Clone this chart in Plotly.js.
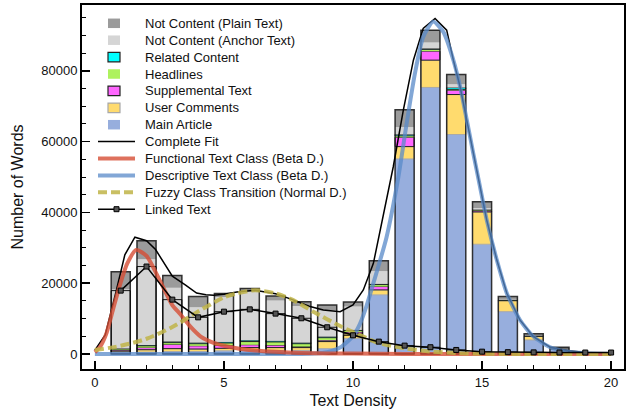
<!DOCTYPE html>
<html>
<head>
<meta charset="utf-8">
<script src="https://cdn.plot.ly/plotly-3.0.1.min.js"></script>
<style>html,body{margin:0;padding:0;background:#fff;}#chart{width:631px;height:411px;}</style>
</head>
<body>
<div id="chart"></div>
<script>
// ---- data ----
const binX = [1,2,3,4,5,6,7,8,9,10,11,12,13,14,15,16,17,18];
const plainText    = [5000,5200,3500,3000,1000,950,1300,1200,1600,1250,2950,4900,3490,2730,1800,750,500,350];
const anchorText   = [16700,24300,15200,10000,12700,13650,11400,10350,7350,6600,3600,2070,1700,940,450,200,100,50];
const relatedContent = [150,200,300,300,300,400,300,300,300,200,200,400,250,500,100,50,0,0];
const headlines    = [300,500,500,600,700,900,900,800,700,400,550,400,500,250,200,50,50,0];
const supplemental = [300,600,1200,900,800,800,700,300,400,500,950,2640,2540,1220,350,100,0,0];
const userComments = [400,700,800,700,700,800,800,800,2000,1300,1400,3490,7720,11300,9130,3100,1100,200];
const mainArticle  = [400,500,700,700,900,1000,1000,1000,1500,4400,16700,55100,75300,62000,31000,11950,3950,1300];

const fitX = [0,0.4,0.8,1.16,1.55,2.0,2.35,2.7,3.0,3.5,3.94,4.3,4.6,5.0,5.5,6.2,7.0,7.6,8.3,8.85,9.5,10.0,10.4,10.79,11.17,11.56,11.95,12.34,12.72,13.18,13.63,13.89,14.15,14.41,14.66,14.92,15.18,15.57,15.96,16.47,16.99,17.64,18.28,19,20];
const fitY = [1100,5400,17000,28000,33000,32000,29500,25500,22000,19500,17200,16700,16600,16900,17500,18000,17000,15500,13500,12400,11950,13850,18100,25600,38800,52900,68900,83000,92000,94800,91500,83000,75500,66100,56700,47300,37900,26600,17150,9600,4900,1900,1000,400,150];

const funcX = [0,0.2,0.45,0.7,0.97,1.25,1.6,2.0,2.5,3.0,3.3,3.7,4.1,4.6,5.0,5.6,6.2,7.0,8.0,9.0,10,12,14,16,18,20];
const funcY = [500,2000,5900,12500,19500,25500,29400,27700,21000,13800,11300,7700,4900,3100,2300,1500,1000,600,300,150,100,0,0,0,0,0];

const descX = [0,2,4,6,8,8.5,9.0,9.5,10.0,10.27,10.5,10.79,11.3,11.76,12.08,12.4,12.72,13.11,13.5,13.89,14.15,14.41,14.66,14.92,15.18,15.57,15.96,16.47,16.99,17.64,18.28,19,20];
const descY = [0,0,0,0,0,100,500,1800,5000,8500,13000,20000,33000,50100,65200,79300,89600,93900,91000,83000,75500,66100,56700,47300,37900,26600,17150,9600,4900,1900,700,200,0];

const fuzzyX = [0,1.0,2.0,3.0,4.0,5.0,5.5,6.2,7.0,7.6,8.5,9.5,10.4,11.0,12.0,13.0,14.0,15,16,18,20];
const fuzzyY = [1100,2300,4300,7600,12000,16000,17100,18000,17100,15500,11800,7900,4900,3100,1600,700,250,100,0,0,0];

const linkedX = [1,2,3,4,5,6,7,8,9,10,11,12,13,14,15,16,17,18,19,20];
const linkedY = [17900,24700,15350,10350,11950,12600,11400,10080,7540,5270,3480,2350,1900,1130,650,500,450,400,400,400];

const yTicks = [0,20000,40000,60000,80000];
const xTicks = [0,5,10,15,20];

const legendLabels = ['Not Content (Plain Text)','Not Content (Anchor Text)','Related Content','Headlines',
  'Supplemental Text','User Comments','Main Article','Complete Fit','Functional Text Class (Beta D.)',
  'Descriptive Text Class (Beta D.)','Fuzzy Class Transition (Normal D.)','Linked Text'];

// ---- styles ----
const ST = {
  'Main Article':{fill:'#97AEDD', line:'rgba(0,0,0,0)', lw:0},
  'User Comments':{fill:'#FFDB6E', line:'#A8A8A8', lw:1},
  'Supplemental Text':{fill:'#FF66FF', line:'#222', lw:1},
  'Headlines':{fill:'#AEF25E', line:'rgba(0,0,0,0)', lw:0},
  'Related Content':{fill:'#00FFFF', line:'#222', lw:1},
  'Not Content (Anchor Text)':{fill:'#D5D5D5', line:'rgba(0,0,0,0)', lw:0},
  'Not Content (Plain Text)':{fill:'#9B9B9B', line:'rgba(0,0,0,0)', lw:0},
  'Complete Fit':{line:'#000', lw:1.5},
  'Functional Text Class (Beta D.)':{line:'rgba(214,78,52,0.8)', lw:4},
  'Descriptive Text Class (Beta D.)':{line:'rgba(88,138,200,0.75)', lw:4},
  'Fuzzy Class Transition (Normal D.)':{line:'rgba(192,180,72,0.85)', lw:4, dash:'9px,4px'},
  'Linked Text':{line:'#000', lw:1.5, marker:true}
};

const stack = [
  ['Main Article', mainArticle], ['User Comments', userComments], ['Supplemental Text', supplemental],
  ['Headlines', headlines], ['Related Content', relatedContent],
  ['Not Content (Anchor Text)', anchorText], ['Not Content (Plain Text)', plainText]
];
const BW = 0.74;
const traces = [];
let cum = binX.map(() => 0);
stack.forEach(([name, data]) => {
  const s = ST[name];
  traces.push({type:'bar', x:binX, y:data, base:cum.slice(), width:BW, name:name,
    marker:{color:s.fill, line:{color:s.line, width:s.lw}}});
  cum = cum.map((v,i) => v + data[i]);
});
traces.push({type:'bar', x:binX, y:cum, base:binX.map(()=>0), width:BW,
  marker:{color:'rgba(0,0,0,0)', line:{color:'rgba(20,20,20,0.85)', width:1.5}}});
traces.push({type:'bar', x:binX, y:linkedY.slice(0, binX.length), base:binX.map(()=>0), width:BW,
  marker:{color:'rgba(0,0,0,0)', line:{color:'rgba(0,0,0,0.9)', width:1}}});

function lineTrace(name, x, y, extra) {
  const s = ST[name];
  return Object.assign({type:'scatter', mode:'lines', x:x, y:y, name:name,
    line:Object.assign({color:s.line, width:s.lw}, s.dash ? {dash:s.dash} : {})}, extra || {});
}
traces.push(lineTrace('Complete Fit', fitX, fitY));
const tDesc = lineTrace('Descriptive Text Class (Beta D.)', descX, descY); tDesc.line.shape='spline'; tDesc.line.smoothing=0.6; traces.push(tDesc);
const tFunc = lineTrace('Functional Text Class (Beta D.)', funcX, funcY); tFunc.line.shape='spline'; tFunc.line.smoothing=0.6; traces.push(tFunc);
const tFuzz = lineTrace('Fuzzy Class Transition (Normal D.)', fuzzyX, fuzzyY); tFuzz.line.shape='spline'; tFuzz.line.smoothing=0.8; traces.push(tFuzz);
traces.push(lineTrace('Linked Text', linkedX, linkedY, {mode:'lines+markers',
  marker:{symbol:'square', size:5, color:'#555', line:{color:'#000', width:1}}}));

// ---- legend drawn in paper space (compact spacing like the reference) ----
const M = {l:82, r:7, t:5, b:42}, W = 631, H = 411;
const PW = W - M.l - M.r, PH = H - M.t - M.b;
const px = v => (v - M.l) / PW;
const py = v => (H - M.b - v) / PH;
const LG = {top:23.3, step:16.9, sqL:108, sqR:120, sqH:9.5, lnL:98, lnR:135, text:143};
const shapes = [], annotations = [];
legendLabels.forEach((name, i) => {
  const cy = LG.top + LG.step * i;
  const s = ST[name];
  if (s.fill) {
    shapes.push({type:'rect', xref:'paper', yref:'paper', x0:px(LG.sqL), x1:px(LG.sqR), y0:py(cy + LG.sqH/2), y1:py(cy - LG.sqH/2),
      fillcolor:s.fill, line:{color:s.lw ? s.line : 'rgba(0,0,0,0)', width:s.lw ? 1.2 : 0}});
  } else {
    shapes.push({type:'line', xref:'paper', yref:'paper', x0:px(LG.lnL), x1:px(LG.lnR), y0:py(cy), y1:py(cy),
      line:Object.assign({color:s.line, width:s.lw}, s.dash ? {dash:s.dash} : {})});
    if (s.marker) {
      const mx = (LG.lnL + LG.lnR) / 2;
      shapes.push({type:'rect', xref:'paper', yref:'paper', x0:px(mx-2.5), x1:px(mx+2.5), y0:py(cy+2.5), y1:py(cy-2.5),
        fillcolor:'#555', line:{color:'#000', width:1}});
    }
  }
  annotations.push({xref:'paper', yref:'paper', x:px(LG.text), y:py(cy), xanchor:'left', yanchor:'middle',
    text:name, showarrow:false, font:{size:13, color:'#111'}});
});

const FONT = 'Liberation Sans, Arial, Helvetica, sans-serif';
const layout = {
  width:W, height:H, margin:M,
  paper_bgcolor:'#fff', plot_bgcolor:'#fff',
  font:{family:FONT, size:13, color:'#111'},
  barmode:'overlay', showlegend:false,
  shapes:shapes, annotations:annotations,
  xaxis:{range:[-0.5,20.5], tickvals:xTicks, ticktext:xTicks.map(String), ticks:'inside', ticklen:8, tickwidth:1.5, tickcolor:'#000',
    minor:{dtick:1, tick0:0, ticks:'inside', ticklen:4, tickwidth:1, tickcolor:'#000'},
    showline:true, linewidth:2, linecolor:'#000', mirror:true, showgrid:false, zeroline:false,
    tickfont:{size:13}, title:{text:'Text Density', font:{size:16}, standoff:6}},
  yaxis:{range:[-4250,98600], tickvals:yTicks, ticktext:yTicks.map(String), ticks:'inside', ticklen:8, tickwidth:1.5, tickcolor:'#000',
    minor:{dtick:5000, tick0:0, ticks:'inside', ticklen:4, tickwidth:1, tickcolor:'#000'},
    showline:true, linewidth:2, linecolor:'#000', mirror:true, showgrid:false, zeroline:false,
    tickfont:{size:13}, title:{text:'Number of Words', font:{size:16}, standoff:14}}
};
Plotly.newPlot('chart', traces, layout, {displayModeBar:false, staticPlot:true});
</script>
</body>
</html>
